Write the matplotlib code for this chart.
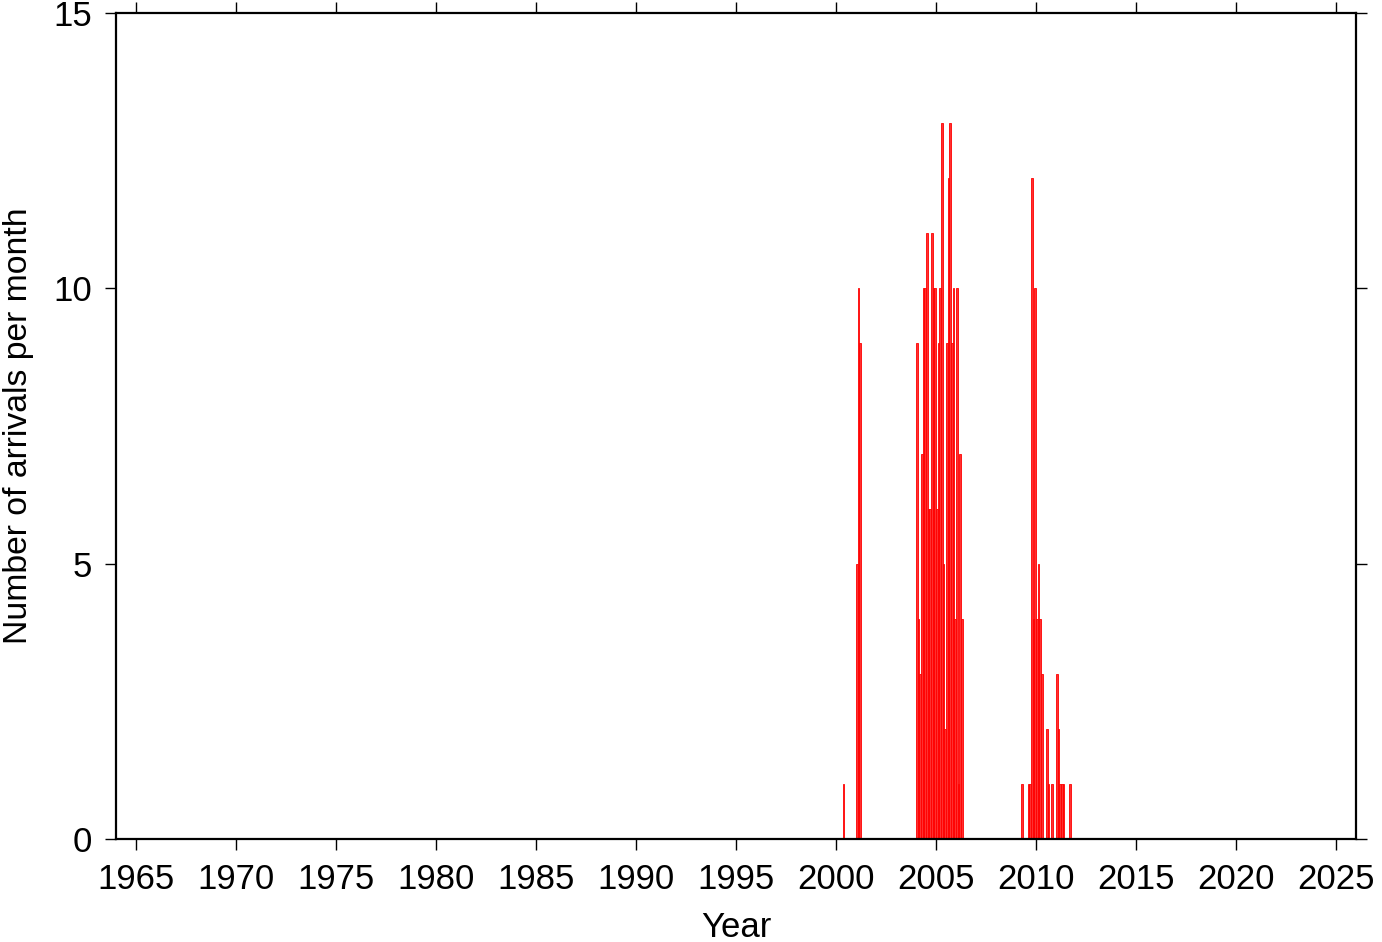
import matplotlib
matplotlib.use("Agg")
import matplotlib.pyplot as plt

plt.rcParams['font.family'] = ['Liberation Sans', 'DejaVu Sans']

# months with arrivals (year, month) and counts
years = [2000, 2001, 2001, 2001,
         2004, 2004, 2004, 2004, 2004, 2004, 2004, 2004, 2004, 2004, 2004, 2004,
         2005, 2005, 2005, 2005, 2005, 2005, 2005, 2005, 2005, 2005, 2005, 2005,
         2006, 2006, 2006, 2006,
         2009, 2009, 2009, 2009, 2009, 2009,
         2010, 2010, 2010, 2010, 2010, 2010, 2010,
         2011, 2011, 2011, 2011, 2011, 2011]
months = [5, 1, 2, 3,
          1, 2, 3, 4, 5, 6, 7, 8, 9, 10, 11, 12,
          1, 2, 3, 4, 5, 6, 7, 8, 9, 10, 11, 12,
          1, 2, 3, 4,
          4, 8, 9, 10, 11, 12,
          1, 2, 3, 4, 7, 8, 10,
          1, 2, 3, 4, 5, 9]
counts = [1, 5, 10, 9,
          9, 4, 3, 7, 10, 10, 11, 6, 6, 11, 10, 10,
          6, 9, 10, 13, 5, 2, 9, 12, 13, 9, 10, 4,
          10, 1, 7, 4,
          1, 1, 1, 12, 4, 10,
          4, 5, 4, 3, 2, 1, 1,
          3, 2, 1, 1, 1, 1]

xticks = list(range(1965, 2030, 5))
yticks = [0, 5, 10, 15]

t = [y + (m - 1) / 12.0 for y, m in zip(years, months)]

fig = plt.figure(figsize=(13.82, 9.42), dpi=100)
ax = fig.add_axes([116/1382, 1-839/942, (1356-116)/1382, (839-13)/942])

ax.bar(t, counts, width=1/12.0, align='edge', facecolor='#ff3030',
       edgecolor='#ff0000', linewidth=0.6, zorder=2)

ax.set_xlim(1964, 2026)
ax.set_ylim(0, 15)
ax.set_xticks(xticks)
ax.set_yticks(yticks)
ax.tick_params(direction='out', length=8, width=1, labelsize=25,
               top=True, right=True, labeltop=False, labelright=False)
ax.tick_params(axis='x', pad=9)
ax.tick_params(axis='y', pad=9)
for s in ax.spines.values():
    s.set_linewidth(1.6)

ax.set_xlabel("Year", fontsize=25, labelpad=11)
ax.set_ylabel("Number of arrivals per month", fontsize=24.3, labelpad=14)

fig.savefig("out.png", dpi=100)
